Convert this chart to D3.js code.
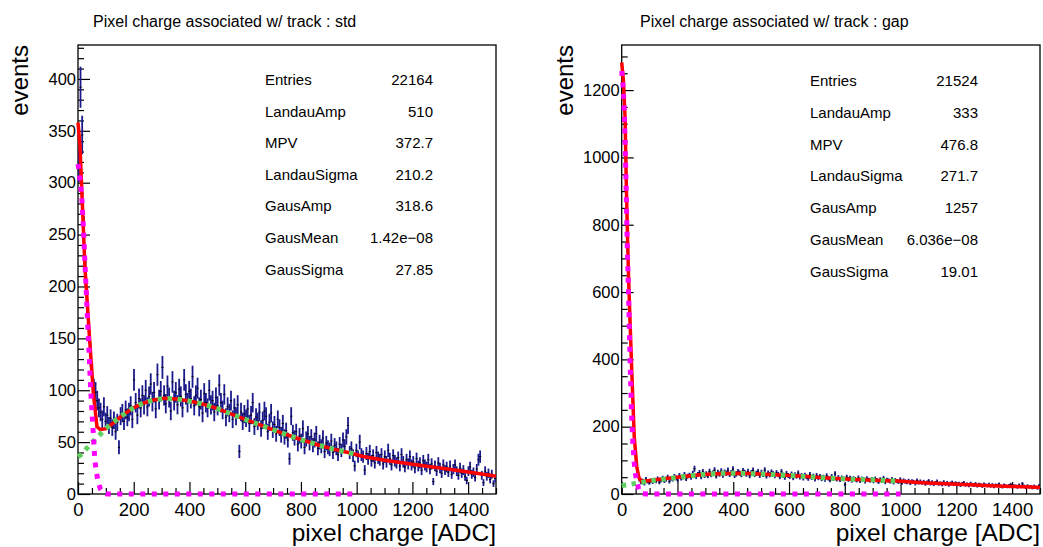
<!DOCTYPE html>
<html>
<head>
<meta charset="utf-8">
<script src="https://cdn.jsdelivr.net/npm/d3@7/dist/d3.min.js"></script>
<style>
  body { margin: 0; background: #fff; }
  text { font-family: "Liberation Sans", Arial, Helvetica, sans-serif; fill: #000; }
</style>
</head>
<body>
<svg id="chart" width="1043" height="547"></svg>
<script>
// histogram: 250 bins of 6 ADC from 0 to 1500
const binWidth = 6;

const leftCounts = [
  318, 392, 346, 252, 214, 186, 158, 134, 116, 101,
  98, 90, 83, 79, 72, 84, 70, 76, 66, 73,
  64, 71, 60, 69, 45, 75, 78, 70, 81, 74,
  79, 85, 72, 110, 88, 76, 92, 83, 95, 86,
  100, 84, 94, 106, 89, 98, 82, 115, 91, 99,
  122, 95, 87, 104, 93, 80, 108, 90, 98, 86,
  101, 94, 83, 110, 96, 88, 99, 92, 113, 85,
  95, 102, 84, 91, 78, 97, 88, 83, 100, 86,
  90, 79, 93, 85, 105, 88, 81, 96, 74, 84,
  78, 90, 72, 83, 75, 86, 41, 79, 70, 77,
  73, 82, 68, 76, 88, 65, 74, 70, 79, 63,
  71, 80, 75, 60, 69, 78, 62, 67, 58, 72,
  64, 57, 68, 55, 61, 52, 34, 75, 59, 54,
  60, 48, 56, 51, 63, 45, 53, 58, 49, 55,
  47, 52, 58, 44, 50, 46, 54, 41, 49, 45,
  43, 51, 40, 47, 44, 38, 48, 42, 52, 46,
  55, 66, 40, 44, 37, 27, 42, 36, 50, 38,
  36, 23, 39, 34, 41, 32, 37, 30, 40, 35,
  33, 38, 29, 36, 31, 42, 34, 28, 37, 32,
  30, 35, 27, 38, 31, 26, 33, 29, 36, 28,
  31, 25, 34, 27, 30, 23, 32, 28, 26, 33,
  24, 29, 12, 27, 22, 30, 25, 20, 28, 23,
  26, 21, 27, 19, 24, 28, 22, 18, 25, 20,
  23, 17, 13, 22, 26, 19, 21, 16, 24, 33,
  36, 18, 11, 22, 17, 20, 14, 19, 10, 15
];

const rightCounts = [
  1228, 1172, 975, 748, 566, 421, 296, 168, 104, 62,
  44, 35, 39, 31, 44, 37, 33, 40, 36, 42,
  38, 45, 35, 41, 47, 39, 43, 50, 37, 46,
  44, 52, 48, 41, 55, 47, 50, 58, 45, 53,
  56, 49, 61, 75, 52, 58, 63, 51, 66, 55,
  60, 54, 67, 57, 62, 71, 53, 64, 59, 68,
  56, 65, 61, 70, 58, 63, 74, 55, 60, 66,
  62, 57, 69, 64, 59, 67, 54, 63, 70, 58,
  61, 66, 55, 64, 58, 71, 53, 62, 57, 65,
  60, 54, 63, 58, 51, 66, 56, 49, 61, 55,
  52, 59, 48, 57, 53, 62, 50, 55, 47, 56,
  51, 46, 58, 49, 53, 44, 55, 48, 52, 45,
  50, 43, 54, 47, 41, 52, 46, 60, 44, 49,
  42, 48, 45, 28, 50, 43, 47, 40, 46, 44,
  41, 48, 39, 45, 43, 37, 46, 42, 40, 44,
  38, 45, 41, 36, 43, 39, 47, 35, 42, 40,
  37, 44, 34, 41, 38, 36, 43, 33, 40, 37,
  35, 39, 32, 38, 36, 31, 40, 34, 37, 33,
  36, 30, 34, 38, 31, 35, 29, 33, 37, 30,
  32, 28, 35, 30, 33, 27, 31, 34, 29, 32,
  28, 31, 26, 30, 33, 27, 29, 25, 31, 28,
  26, 30, 24, 28, 27, 23, 29, 26, 25, 28,
  24, 27, 22, 26, 25, 29, 23, 21, 26, 24,
  22, 25, 28, 21, 24, 23, 20, 26, 22, 30,
  23, 19, 24, 21, 22, 18, 23, 20, 17, 25
];

// fit curves, [ADC, events]
const leftTotalFit = [
  [0, 358], [7, 336], [25, 218], [41, 152], [55, 97], [68, 65], [80, 62], [100, 63],
  [130, 69], [160, 76], [196, 82.6], [232, 87.4], [271, 90.6], [310, 92.2], [352, 91.6],
  [394, 89.9], [436, 87.4], [472, 84.8], [508, 81.6], [560, 76], [622, 69.7], [680, 64],
  [742, 57.8], [800, 52.5], [862, 47.2], [920, 43], [982, 39.2], [1024, 36.2], [1100, 32.6],
  [1170, 29.8], [1245, 27], [1320, 24.3], [1400, 21.3], [1490, 17.6], [1500, 17.3]
];
const leftLandau = [
  [0, 36], [11, 38], [38, 46], [67, 54], [98, 62.7], [127, 69.4], [160, 76], [196, 82.6],
  [232, 87.4], [271, 90.6], [310, 92.2], [352, 91.6], [394, 89.9], [436, 87.4], [472, 84.8],
  [508, 81.6], [560, 76], [622, 69.7], [680, 64], [742, 57.8], [800, 52.5], [862, 47.2],
  [920, 43], [982, 39.2], [1000, 38.1]
];
const leftGaus = [
  [0, 318], [5, 309], [10, 296], [15, 280], [20, 254], [25, 222], [30, 193], [35, 163],
  [40, 135], [45, 103], [50, 80], [55, 58], [60, 34], [65, 23], [72, 12], [80, 5],
  [90, 1.5], [100, 0.3], [110, 0], [1000, 0]
];

const rightTotalFit = [
  [0, 1282], [6, 1230], [12, 1120], [17, 900], [24, 660], [30, 510], [36, 368], [45, 170],
  [54, 81], [62, 48], [72, 37], [100, 40], [150, 45], [200, 50], [262, 56], [320, 59.5],
  [380, 61.2], [429, 61.4], [480, 60], [530, 58], [585, 56], [650, 52.5], [700, 49.5],
  [752, 46.5], [800, 44.6], [900, 41], [992, 38.6], [1050, 35], [1100, 32.6], [1183, 29.7],
  [1250, 27.3], [1300, 25.6], [1400, 22.6], [1488, 19.9], [1500, 19.6]
];
const rightLandau = [
  [0, 25], [16.5, 26.7], [40, 30], [72, 34.5], [100, 38.6], [178, 46.5], [262, 56],
  [346, 61.4], [429, 61.4], [507, 59.4], [585, 56], [669, 51.4], [752, 46.5], [835, 43.6],
  [920, 41.6], [980, 38.6], [1000, 38]
];
const rightGaus = [
  [0, 1257], [6, 1200], [10, 1120], [15, 950], [20, 735], [25, 580], [30, 395], [35, 245],
  [40, 150], [45, 92], [50, 56], [55, 35], [60, 18], [65, 6], [75, 1], [90, 0], [1000, 0]
];

const xTicks = [0, 200, 400, 600, 800, 1000, 1200, 1400];
const leftYTicks = [0, 50, 100, 150, 200, 250, 300, 350, 400];
const rightYTicks = [0, 200, 400, 600, 800, 1000, 1200];

const statLabels = ["Entries", "LandauAmp", "MPV", "LandauSigma", "GausAmp", "GausMean", "GausSigma"];
const leftStatValues = ["22164", "510", "372.7", "210.2", "318.6", "1.42e\u221208", "27.85"];
const rightStatValues = ["21524", "333", "476.8", "271.7", "1257", "6.036e\u221208", "19.01"];

const svg = d3.select("#chart");
svg.append("rect").attr("width", 1043).attr("height", 547).attr("fill", "#fff");

function drawPanel(p) {
    var x = d3.scaleLinear().domain([0, 1500]).range([p.left, p.right]);
    var y = d3.scaleLinear().domain([0, p.yMax]).range([p.bottom, p.top]);
    var g = svg.append("g");

    // frame
    g.append("rect")
        .attr("x", p.left).attr("y", p.top)
        .attr("width", p.right - p.left).attr("height", p.bottom - p.top)
        .attr("fill", "none").attr("stroke", "#000").attr("stroke-width", 1.3);

    // x axis, ticks pointing inward
    var xMinor = d3.range(0, 1501, 50).filter(v => v % 200 != 0);
    g.append("g").attr("transform", "translate(0," + p.bottom + ")")
        .call(d3.axisBottom(x).tickValues(xMinor).tickSize(-6).tickFormat(""))
        .call(a => a.select(".domain").remove());
    var xa = g.append("g").attr("transform", "translate(0," + p.bottom + ")")
        .call(d3.axisBottom(x).tickValues(xTicks).tickSizeInner(-12).tickSizeOuter(0).tickPadding(9).tickFormat(d3.format("d")));
    xa.select(".domain").remove();
    xa.selectAll("text").style("font-size", "18.5px");

    var yMinor = d3.range(0, p.yMax, p.yMinorStep).filter(v => v % p.yMajorStep != 0);
    g.append("g").attr("transform", "translate(" + p.left + ",0)")
        .call(d3.axisLeft(y).tickValues(yMinor).tickSize(-6).tickFormat(""))
        .call(a => a.select(".domain").remove());
    var ya = g.append("g").attr("transform", "translate(" + p.left + ",0)")
        .call(d3.axisLeft(y).tickValues(p.yTicks).tickSizeInner(-12).tickSizeOuter(0).tickPadding(2).tickFormat(d3.format("d")));
    ya.select(".domain").remove();
    ya.selectAll("text").style("font-size", "16.5px");

    g.selectAll(".tick line").attr("stroke", "#000").attr("stroke-width", 1.2);

    g.append("clipPath").attr("id", p.id + "clip")
        .append("rect")
        .attr("x", p.left).attr("y", p.top)
        .attr("width", p.right - p.left).attr("height", p.bottom - p.top);

    // fit lines may spill a bit over the lower and left edges, like in ROOT
    g.append("clipPath").attr("id", p.id + "clipfit")
        .append("rect")
        .attr("x", p.left - 5).attr("y", p.top)
        .attr("width", p.right - p.left + 5).attr("height", p.bottom - p.top + 5);

    var plot = g.append("g").attr("clip-path", "url(#" + p.id + "clip)");
    var fits = g.append("g").attr("clip-path", "url(#" + p.id + "clipfit)");

    // error bars
    plot.selectAll("line.err")
        .data(p.counts)
        .join("line")
        .attr("class", "err")
        .attr("x1", (d, i) => x(i * binWidth + binWidth / 2))
        .attr("x2", (d, i) => x(i * binWidth + binWidth / 2))
        .attr("y1", d => y(d + Math.sqrt(d)))
        .attr("y2", d => y(Math.max(0, d - Math.sqrt(d))))
        .attr("stroke", "#1a1a8a")
        .attr("stroke-width", 1.8);

    plot.selectAll("line.mark")
        .data(p.counts)
        .join("line")
        .attr("class", "mark")
        .attr("x1", (d, i) => x(i * binWidth + binWidth / 2) - 1.1)
        .attr("x2", (d, i) => x(i * binWidth + binWidth / 2) + 1.1)
        .attr("y1", d => y(d))
        .attr("y2", d => y(d))
        .attr("stroke", "#000")
        .attr("stroke-width", 1);

    var line = d3.line().x(d => x(d[0])).y(d => y(d[1]));

    fits.append("path").attr("d", line(p.total))
        .attr("fill", "none").attr("stroke", "#ff0000").attr("stroke-width", 3.5);
    fits.append("path").attr("d", line(p.landau))
        .attr("fill", "none").attr("stroke", "#5fcf5f").attr("stroke-width", 5)
        .attr("stroke-dasharray", "4.5,5.5");
    fits.append("path").attr("d", line(p.gaus))
        .attr("fill", "none").attr("stroke", "#ff00ff").attr("stroke-width", 5)
        .attr("stroke-dasharray", "5,6.5");

    // titles
    g.append("text")
        .attr("x", p.titleX).attr("y", 27)
        .style("font-size", "16px")
        .text(p.title);

    g.append("text")
        .attr("x", p.right).attr("y", 541)
        .attr("text-anchor", "end")
        .style("font-size", "24.5px")
        .text("pixel charge [ADC]");

    g.append("text")
        .attr("transform", "translate(" + p.eventsX + "," + p.top + ") rotate(-90)")
        .attr("text-anchor", "end")
        .style("font-size", "24px")
        .text("events");

    // stats
    var st = g.selectAll("g.stat")
        .data(statLabels)
        .enter()
        .append("g")
        .attr("class", "stat");

    st.append("text")
        .attr("x", p.statLabelX)
        .attr("y", (d, i) => p.statY + i * p.statStep)
        .style("font-size", "15px")
        .text(d => d);

    st.append("text")
        .attr("x", p.statValueX)
        .attr("y", (d, i) => p.statY + i * p.statStep)
        .attr("text-anchor", "end")
        .style("font-size", "15px")
        .text((d, i) => p.statValues[i]);
}

drawPanel({
    id: "left", left: 78, right: 496, top: 45, bottom: 494, yMax: 432.7,
    yTicks: leftYTicks, yMajorStep: 50, yMinorStep: 10,
    counts: leftCounts, total: leftTotalFit, landau: leftLandau, gaus: leftGaus,
    title: "Pixel charge associated w/ track : std", titleX: 93, eventsX: 28,
    statValues: leftStatValues, statLabelX: 265, statValueX: 433, statY: 85, statStep: 31.6
});

drawPanel({
    id: "right", left: 621.7, right: 1040, top: 45, bottom: 494, yMax: 1334,
    yTicks: rightYTicks, yMajorStep: 200, yMinorStep: 50,
    counts: rightCounts, total: rightTotalFit, landau: rightLandau, gaus: rightGaus,
    title: "Pixel charge associated w/ track : gap", titleX: 640, eventsX: 573,
    statValues: rightStatValues, statLabelX: 810, statValueX: 978, statY: 86, statStep: 31.8
});
</script>
</body>
</html>
